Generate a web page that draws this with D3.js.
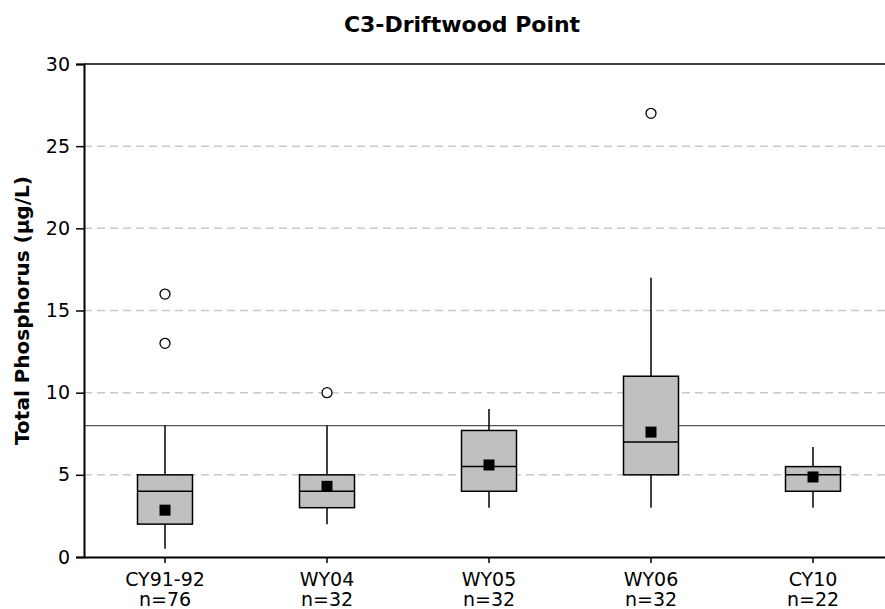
<!DOCTYPE html>
<html><head><meta charset="utf-8">
<script src="https://cdn.jsdelivr.net/npm/d3@7"></script>
<style>
html,body{margin:0;padding:0;background:#fff;}
text{font-family:"DejaVu Sans",sans-serif;}
</style></head>
<body><svg id="c" width="885" height="609"></svg>
<script>
const categories = ["CY91-92","WY04","WY05","WY06","CY10"];
const counts = [76,32,32,32,22];
const whiskerLow = [0.5,2,3,3,3];
const q1 = [2,3,4,5,4];
const median = [4,4,5.5,7,5];
const q3 = [5,5,7.7,11,5.5];
const whiskerHigh = [8,8,9,17,6.7];
const means = [2.85,4.3,5.6,7.6,4.87];
const outliers = [[16,13],[10],[],[27],[]];
const yTicks = [0,5,10,15,20,25,30];
const refLine = 8;

const svg = d3.select("#c");
const pL = 84, pR = 894, pT = 64, pB = 557;
const x = d3.scaleBand().domain(categories).range([pL,pR]);
const y = d3.scaleLinear().domain([0,30]).range([pB,pT]);
const bw = 55;

// gridlines
svg.append("g").selectAll("line").data(yTicks.filter(d=>d>0&&d<30)).join("line")
  .attr("x1",pL).attr("x2",885).attr("y1",d=>y(d)).attr("y2",d=>y(d))
  .attr("stroke","#c8c8c8").attr("stroke-width",1.5).attr("stroke-dasharray","8,5");
// top line
svg.append("line").attr("x1",pL).attr("x2",885).attr("y1",y(30)).attr("y2",y(30))
  .attr("stroke","#000").attr("stroke-width",1.5);
// reference line
svg.append("line").attr("x1",pL).attr("x2",885).attr("y1",y(refLine)).attr("y2",y(refLine))
  .attr("stroke","#555").attr("stroke-width",1.3);

const idx = d3.range(categories.length);
const cx = i => x(categories[i]) + x.bandwidth()/2;
const g = svg.append("g");
// whiskers
g.selectAll("line.w").data(idx).join("line").attr("class","w")
  .attr("x1",cx).attr("x2",cx).attr("y1",i=>y(whiskerLow[i])).attr("y2",i=>y(whiskerHigh[i]))
  .attr("stroke","#000").attr("stroke-width",1.5);
// boxes
g.selectAll("rect.b").data(idx).join("rect").attr("class","b")
  .attr("x",i=>cx(i)-bw/2).attr("width",bw)
  .attr("y",i=>y(q3[i])).attr("height",i=>y(q1[i])-y(q3[i]))
  .attr("fill","#c0c0c0").attr("stroke","#000").attr("stroke-width",1.5);
// medians
g.selectAll("line.m").data(idx).join("line").attr("class","m")
  .attr("x1",i=>cx(i)-bw/2).attr("x2",i=>cx(i)+bw/2).attr("y1",i=>y(median[i])).attr("y2",i=>y(median[i]))
  .attr("stroke","#000").attr("stroke-width",1.5);
// means
const ms = 11;
g.selectAll("rect.mean").data(idx).join("rect").attr("class","mean")
  .attr("x",i=>cx(i)-ms/2).attr("y",i=>y(means[i])-ms/2).attr("width",ms).attr("height",ms).attr("fill","#000");
// outliers
const od = idx.flatMap(i=>outliers[i].map(v=>({i,v})));
g.selectAll("circle").data(od).join("circle")
  .attr("cx",d=>cx(d.i)).attr("cy",d=>y(d.v)).attr("r",5)
  .attr("fill","#fff").attr("stroke","#000").attr("stroke-width",1.3);

// y axis
const ya = svg.append("g").attr("transform",`translate(${pL},0)`)
  .call(d3.axisLeft(y).tickValues(yTicks).tickSize(8).tickPadding(6));
ya.select(".domain").attr("stroke-width",2);
ya.selectAll("line").attr("stroke-width",1.5);
ya.selectAll("text").attr("font-size",19).attr("fill","#000").style("font-family",'"DejaVu Sans",sans-serif');

// x axis
const xa = svg.append("g").attr("transform",`translate(0,${pB})`)
  .call(d3.axisBottom(x).tickSize(6).tickSizeOuter(0).tickFormat(""));
xa.select(".domain").attr("stroke-width",2);
xa.selectAll("line").attr("stroke-width",1.5);
const xl = svg.append("g").selectAll("text").data(idx).join("text")
  .attr("x",cx).attr("y",586).attr("text-anchor","middle").attr("font-size",19).attr("fill","#000");
xl.append("tspan").attr("x",cx).text(i=>categories[i]);
xl.append("tspan").attr("x",cx).attr("dy",20).text(i=>"n="+counts[i]);

// title
svg.append("text").attr("x",462).attr("y",32).attr("text-anchor","middle")
  .attr("font-size",22).attr("font-weight","bold").text("C3-Driftwood Point");
// y label
svg.append("text").attr("transform",`translate(29,${(pT+pB)/2}) rotate(-90)`)
  .attr("text-anchor","middle").attr("font-size",20).attr("font-weight","bold")
  .text("Total Phosphorus (µg/L)");
</script></body></html>
